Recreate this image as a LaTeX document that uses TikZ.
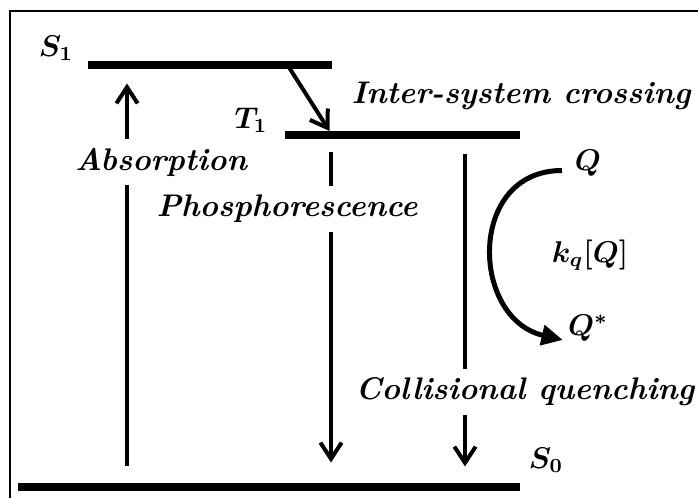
\documentclass[tikz,border=0pt]{standalone}
\usepackage{fontspec}
\usepackage{amsmath,bm}
\usetikzlibrary{arrows.meta,positioning,calc}

\begin{document}
\begin{tikzpicture}[
    x=0.4pt, y=-0.4pt,
    level/.style={rectangle, fill=black, inner sep=0pt, minimum height=3.2pt},
    lbl/.style={font=\fontsize{12.5}{15}\selectfont\bfseries\itshape, inner sep=1pt},
    gaplbl/.style={lbl, fill=white, inner xsep=2pt, inner ysep=3.5pt},
    sym/.style={font=\fontsize{12}{14}\selectfont\boldmath, inner sep=1pt},
    trans/.style={line width=1.6pt, -{Straight Barb[length=6.5pt,width=8.5pt]}},
    frame/.style={line width=0.8pt}
]
\useasboundingbox (0,0) rectangle (698,498);
\draw[frame] (10,498) |- (698,11);

% energy levels
\node[level, minimum width=97.6pt] (S1) at (210,65) {};
\node[level, minimum width=94pt] (T1) at (402.5,135) {};
\node[level, minimum width=200.8pt] (S0) at (269,487) {};

\node[sym] (S1lbl) at (56,48) {$S_1$};
\node[sym] (T1lbl) at (251,120) {$T_1$};
\node[sym] (S0lbl) at (546,460) {$S_0$};

% columns of the transitions
\coordinate (abscol) at (127,0);
\coordinate (phoscol) at (331,0);
\coordinate (quencol) at (465,0);

\draw[trans, shorten <=6.8pt, shorten >=5.6pt] (S0.north -| abscol) -- (S1.south -| abscol);
\draw[trans, shorten <=5.2pt, shorten >=8pt] (T1.south -| phoscol) -- (S0.north -| phoscol);
\draw[trans, shorten <=6pt, shorten >=6.4pt] (T1.south -| quencol) -- (S0.north -| quencol);
\draw[trans] ($(S1.east)+(-45,0)$) -- ($(T1.west)+(45,-4)$);

\node[gaplbl] (absorb) at (161,162) {Absorption};
\node[gaplbl] (phos) at (287,209) {Phosphorescence};
\node[gaplbl] (quench) at (525,392) {Collisional quenching};
\node[lbl] (isc) at (521,96) {Inter-system crossing};

% quencher
\node[sym] (Q) at (588,163) {$Q$};
\node[sym] (Qs) at (588,328) {$Q^{*}$};
\node[sym] (kq) at (590,255) {$k_q[Q]$};
\draw[line width=2pt, -{Triangle[length=8.5pt,width=8pt]}, shorten <=4pt, shorten >=1pt]
    ([yshift=-3pt]Q.west) .. controls +(-105,0) and +(-95,-22) .. ([yshift=-5pt]Qs.west);
\end{tikzpicture}
\end{document}
